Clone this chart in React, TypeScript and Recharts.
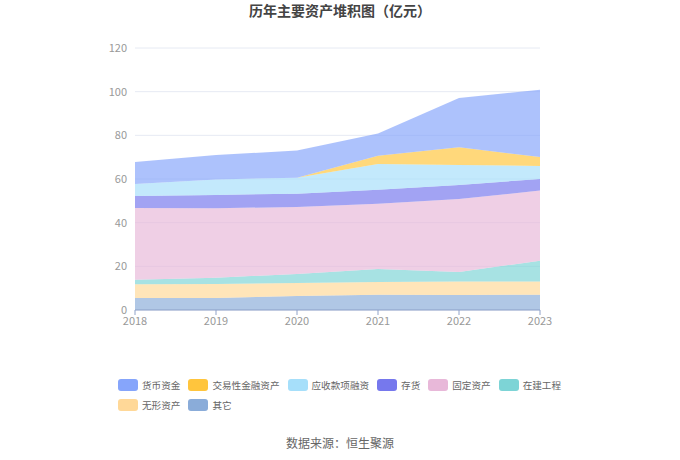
import React from 'react';
import { AreaChart, Area, XAxis, YAxis, CartesianGrid } from 'recharts';

const years = ['2018', '2019', '2020', '2021', '2022', '2023'];
const cash = [10.1, 11.2, 12.4, 10.1, 22.6, 30.8];
const trading = [0, 0, 0, 3.8, 8.1, 4.1];
const receivFin = [5.5, 7.1, 7.3, 11.8, 9.1, 6.0];
const inventory = [5.5, 6.1, 6.1, 6.4, 6.5, 5.3];
const fixedAssets = [32.8, 31.8, 30.7, 29.9, 33.4, 32.1];
const construction = [2.1, 2.9, 4.1, 6.0, 4.3, 9.5];
const intangible = [6.3, 6.4, 6.0, 5.8, 6.2, 6.1];
const other = [5.5, 5.5, 6.4, 7.0, 6.9, 7.0];
const yTicks = [0, 20, 40, 60, 80, 100, 120];

// legend order (top of stack first)
const series = [
  { key: 'cash', name: '货币资金', color: '#86A5FB', values: cash },
  { key: 'trading', name: '交易性金融资产', color: '#FFC53D', values: trading },
  { key: 'receivFin', name: '应收款项融资', color: '#A6DFFA', values: receivFin },
  { key: 'inventory', name: '存货', color: '#7678ED', values: inventory },
  { key: 'fixedAssets', name: '固定资产', color: '#E8B8D9', values: fixedAssets },
  { key: 'construction', name: '在建工程', color: '#7DD4D6', values: construction },
  { key: 'intangible', name: '无形资产', color: '#FFD898', values: intangible },
  { key: 'other', name: '其它', color: '#8AACD9', values: other },
];

const data = years.map((y, i) => {
  const row: Record<string, string | number> = { year: y };
  series.forEach((s) => {
    row[s.key] = s.values[i];
  });
  return row;
});

const font = '"Noto Sans CJK SC", "Noto Sans", sans-serif';

export default function App() {
  const stackOrder = [...series].reverse();
  return (
    <div style={{ position: 'absolute', left: 0, top: 0, width: 680, height: 460, background: '#fff', fontFamily: font }}>
      <div style={{ position: 'absolute', top: 0, left: 0, width: 680, textAlign: 'center', fontSize: 14, fontWeight: 'bold', color: '#444' }}>
        历年主要资产堆积图（亿元）
      </div>
      <div style={{ position: 'absolute', left: 0, top: 0 }}>
        <AreaChart width={680} height={340} data={data} margin={{ top: 48, right: 140, bottom: 0, left: 0 }}>
          <CartesianGrid vertical={false} stroke="#E6EAF3" />
          <XAxis
            dataKey="year"
            height={30}
            tickSize={5}
            stroke="#8FA2C9"
            tick={{ fill: '#999', fontSize: 11, fontFamily: font }}
            interval={0}
          />
          <YAxis
            width={135}
            domain={[0, 120]}
            ticks={yTicks}
            axisLine={false}
            tickLine={false}
            tick={{ fill: '#999', fontSize: 11, fontFamily: font }}
          />
          {stackOrder.map((s) => (
            <Area
              key={s.key}
              type="linear"
              dataKey={s.key}
              name={s.name}
              stackId="a"
              stroke="none"
              fill={s.color}
              fillOpacity={0.68}
              dot={false}
              activeDot={false}
              isAnimationActive={false}
            />
          ))}
        </AreaChart>
      </div>
      <div style={{ position: 'absolute', left: 118, top: 378, width: 470, display: 'flex', flexWrap: 'wrap', rowGap: 6 }}>
        {series.map((s) => (
          <div key={s.key} style={{ display: 'flex', alignItems: 'center', marginRight: 8, height: 14 }}>
            <div style={{ width: 20, height: 12, borderRadius: 3, background: s.color, marginRight: 4 }} />
            <span style={{ fontSize: 9.6, color: '#666', whiteSpace: 'nowrap' }}>{s.name}</span>
          </div>
        ))}
      </div>
      <div style={{ position: 'absolute', top: 434, left: 0, width: 680, textAlign: 'center', fontSize: 12, color: '#666' }}>
        数据来源：恒生聚源
      </div>
    </div>
  );
}
